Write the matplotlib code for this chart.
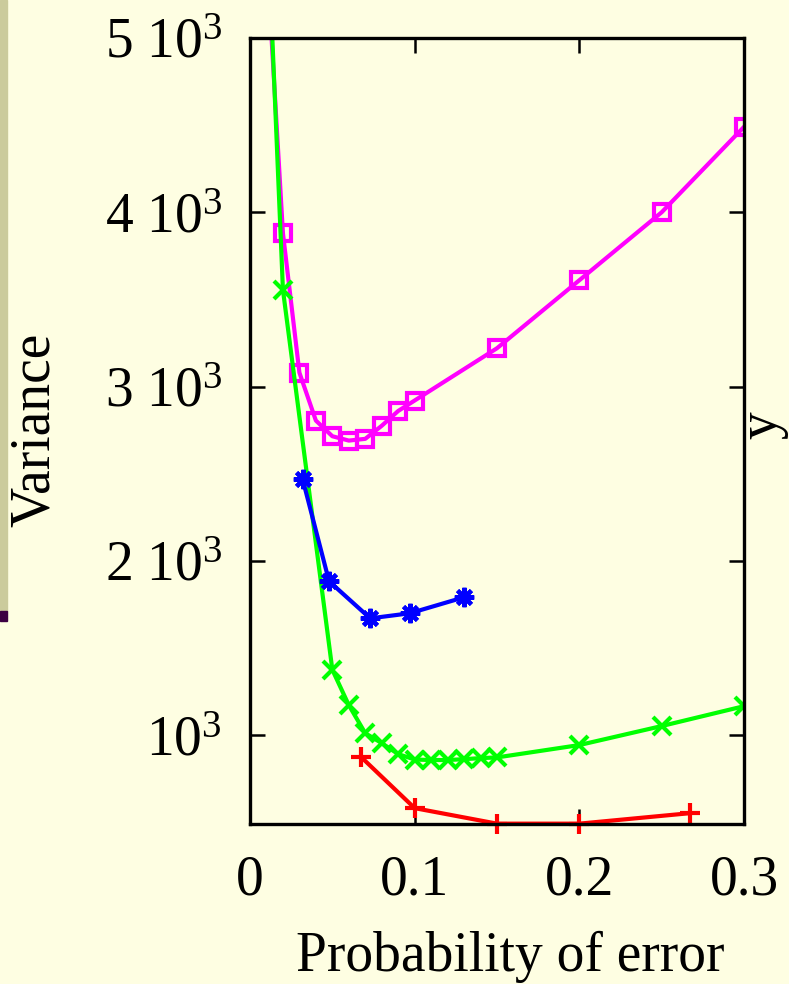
import matplotlib.pyplot as plt
from matplotlib.patches import Rectangle

# ----- data -----
p_square = [0.01, 0.02, 0.03, 0.04, 0.05, 0.06, 0.07, 0.08, 0.09, 0.10, 0.15, 0.20, 0.25, 0.30]
v_square = [5500, 3880, 3080, 2805, 2715, 2690, 2700, 2775, 2860, 2920, 3220, 3610, 4000, 4490]

p_cross = [0.01, 0.02, 0.05, 0.06, 0.07, 0.08, 0.09, 0.10, 0.11, 0.12, 0.13, 0.14, 0.15, 0.20, 0.25, 0.30]
v_cross = [5800, 3555, 1375, 1172, 1011, 954, 891, 860, 857, 857, 862, 868, 872, 943, 1052, 1166]

p_star = [0.032, 0.048, 0.073, 0.097, 0.130]
v_star = [2467, 1883, 1670, 1699, 1791]

p_plus = [0.0675, 0.10, 0.15, 0.20, 0.267]
v_plus = [874, 581, 492, 492, 552]

yticks = [1000, 2000, 3000, 4000, 5000]
ytick_labels = ["10$^3$", "2 10$^3$", "3 10$^3$", "4 10$^3$", "5 10$^3$"]
xticks = [0, 0.1, 0.2, 0.3]
xtick_labels = ["0", "0.1", "0.2", "0.3"]

bg = "#FEFEE2"
fs = 40
plt.rcParams.update({
    "font.family": ["Liberation Serif", "DejaVu Serif"],
    "mathtext.fontset": "custom",
    "mathtext.rm": "Liberation Serif",
    "mathtext.it": "Liberation Serif:italic",
    "font.size": fs,
})

fig = plt.figure(figsize=(7.89, 9.84), dpi=100, facecolor=bg)

# slide decoration on the left edge
fig.patches.append(Rectangle((0, 1 - 611 / 984), 7 / 789, 611 / 984,
                             transform=fig.transFigure, color="#CBCB9C", zorder=0))
fig.patches.append(Rectangle((0, 1 - 621 / 984), 7 / 789, 10 / 984,
                             transform=fig.transFigure, color="#3C0042", zorder=0))

ax = fig.add_axes([250 / 789, 1 - 824 / 984, 494 / 789, 786 / 984])
ax.set_facecolor(bg)

lw = 3
ax.plot(p_square, v_square, color="#FF00FF", lw=lw, marker="s", ms=12,
        mfc="none", mew=3)
ax.plot(p_cross, v_cross, color="#00FF00", lw=lw, marker="x", ms=13, mew=3)
ax.plot(p_star, v_star, color="#0000FF", lw=lw, marker=(8, 2, 0), ms=14, mew=3)
ax.plot(p_plus, v_plus, color="#FF0000", lw=lw, marker="+", ms=15, mew=3,
        clip_on=False)

ax.set_xlim(0, 0.3)
ax.set_ylim(490, 5000)
ax.set_xticks(xticks, xtick_labels)
ax.set_yticks(yticks, ytick_labels)
ax.tick_params(direction="in", length=11, width=1.8, top=True, right=True,
               labelsize=fs)
ax.tick_params(axis="x", pad=22)
ax.tick_params(axis="y", pad=20)
for s in ax.spines.values():
    s.set_linewidth(2.4)

# axis titles placed as in the reference
fig.text(510 / 789, 1 - 957 / 984, "Probability of error", fontsize=fs,
         ha="center", va="center")
fig.text(35 / 789, 1 - 430 / 984, "Variance", rotation=90, fontsize=fs,
         ha="center", va="center")
fig.text(788 / 789, 1 - 425 / 984, "y", rotation=90, fontsize=fs,
         ha="right", va="center")

fig.savefig("out.png", dpi=100, facecolor=bg)
